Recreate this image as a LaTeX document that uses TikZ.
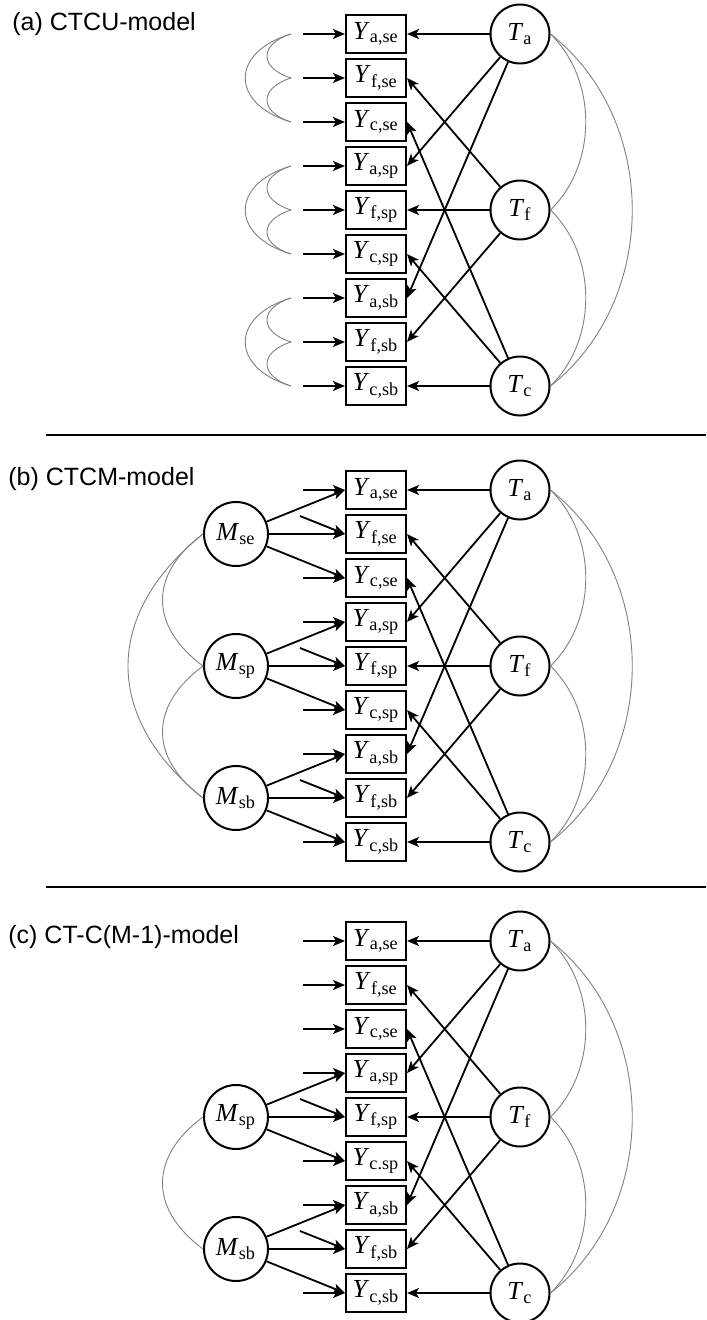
\documentclass[tikz,border=0pt]{standalone}
\usepackage{fontspec}
\setmainfont{Liberation Serif}
\setsansfont{Liberation Sans}
\usetikzlibrary{arrows.meta}

\newcommand{\ind}[2]{\textit{#1}\textsubscript{#2}}

% indicators, trait factors, loadings and trait covariances
\newcommand{\traitpart}[1]{%
  \foreach \ti/\mi/\lab [count=\row from 0] in {a/se/{a,se},f/se/{f,se},c/se/{c,se},a/sp/{a,sp},f/sp/{f,sp},c/sp/{#1},a/sb/{a,sb},f/sb/{f,sb},c/sb/{c,sb}}
    \node[obs] (Y\ti\mi) at (376,{34+44*\row}) {\ind{Y}{\lab}};
  \node[trait] (Ta) at (520,34) {\ind{T}{a}};
  \node[trait] (Tf) at (520,210) {\ind{T}{f}};
  \node[trait] (Tc) at (520,386) {\ind{T}{c}};
  \foreach \ti in {a,f,c}
    \foreach \mi in {se,sp,sb}
      \draw[arrow] (T\ti) -- (Y\ti\mi.east);
  \draw[cov] (Ta.east) .. controls +(47,46) and +(47,-46) .. (Tf.east);
  \draw[cov] (Tf.east) .. controls +(47,46) and +(47,-46) .. (Tc.east);
  \draw[cov] (Ta.east) .. controls +(109,86) and +(109,-86) .. (Tc.east);
}

% method factors with their loadings and error arrows
\newcommand{\methodpart}[1]{%
  \foreach \mi/\y in {#1} {
    \node[method] (M\mi) at (236,\y) {\ind{M}{\mi}};
    \coordinate (ea\mi) at (303,\y-44);
    \coordinate (ef\mi) at (300,\y-18);
    \coordinate (ec\mi) at (303,\y+44);
    \foreach \ti in {a,f,c} {
      \draw[arrow] (M\mi) -- (Y\ti\mi.west);
      \draw[arrow] (e\ti\mi) -- (Y\ti\mi.west);
    }
  }
}

\begin{document}
\begin{tikzpicture}[
    x=0.5pt, y=-0.5pt,
    obs/.style={rectangle, draw, line width=1pt, minimum width=30pt, minimum height=19pt, inner sep=0pt, font=\fontsize{13}{15}\selectfont},
    trait/.style={circle, draw, line width=1pt, minimum size=29.5pt, inner sep=0pt, font=\fontsize{13}{15}\selectfont},
    method/.style={trait, minimum size=32pt},
    arrow/.style={-{Stealth[length=6pt,width=5pt,inset=1.5pt]}, line width=0.9pt},
    cov/.style={gray, line width=0.45pt},
    title/.style={anchor=base west, inner sep=0pt, font=\sffamily\fontsize{12.5}{15}\selectfont},
    rule/.style={line width=0.8pt}
]
\useasboundingbox (0,0) rectangle (706,1320);

\node[title] (titleA) at (12,31) {(a) CTCU-model};
\node[title] (titleB) at (8,485) {(b) CTCM-model};
\node[title] (titleC) at (8,943) {(c) CT-C(M-1)-model};

\draw[rule] (46,435) -- (706,435);
\draw[rule] (46,887) -- (706,887);

% (a) correlated uniqueness
\begin{scope}[name prefix=a-]
  \traitpart{c,sp}
  \foreach \ti/\mi [count=\row from 0] in {a/se,f/se,c/se,a/sp,f/sp,c/sp,a/sb,f/sb,c/sb} {
    \coordinate (e\ti\mi) at (303,{34+44*\row});
    \draw[arrow] (e\ti\mi) -- (Y\ti\mi.west);
  }
  \foreach \mi/\y in {se/34,sp/166,sb/298} {
    \coordinate (top\mi) at (291,\y);
    \coordinate (mid\mi) at (291,\y+44);
    \coordinate (bot\mi) at (291,\y+88);
    \draw[cov] (top\mi) .. controls +(-61,18) and +(-61,-18) .. (bot\mi);
    \draw[cov] (top\mi) .. controls +(-32,10) and +(-32,-10) .. (mid\mi)
               .. controls +(-32,10) and +(-32,-10) .. (bot\mi);
  }
\end{scope}

% (b) correlated methods
\begin{scope}[shift={(0,456)}, name prefix=b-]
  \traitpart{c,sp}
  \methodpart{se/78,sp/210,sb/342}
  \draw[cov] (Mse.west) .. controls +(-54,40) and +(-54,-40) .. (Msp.west);
  \draw[cov] (Msp.west) .. controls +(-54,40) and +(-54,-40) .. (Msb.west);
  \draw[cov] (Mse.west) .. controls +(-100,80) and +(-100,-80) .. (Msb.west);
\end{scope}

% (c) one method less
\begin{scope}[shift={(0,907)}, name prefix=c-]
  \traitpart{c.sp}
  \foreach \ti/\mi/\y in {a/se/34,f/se/78,c/se/122} {
    \coordinate (e\ti\mi) at (303,\y);
    \draw[arrow] (e\ti\mi) -- (Y\ti\mi.west);
  }
  \methodpart{sp/210,sb/342}
  \draw[cov] (Msp.west) .. controls +(-54,40) and +(-54,-40) .. (Msb.west);
\end{scope}
\end{tikzpicture}
\end{document}
